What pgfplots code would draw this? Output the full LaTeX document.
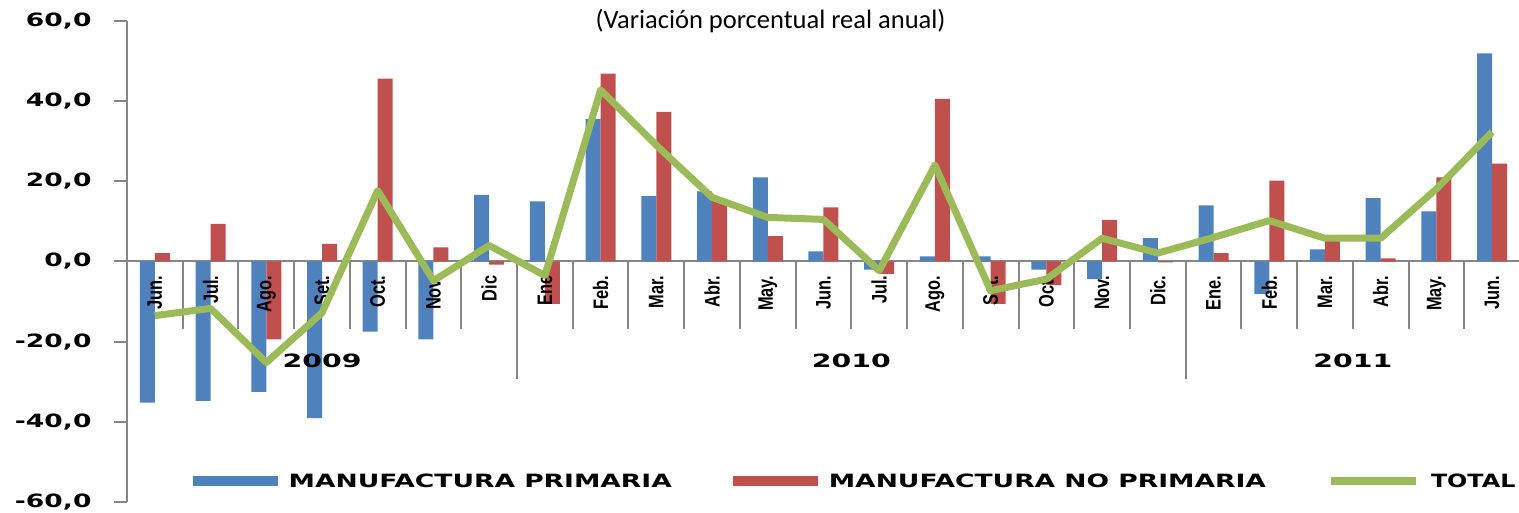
\documentclass[border=0pt]{standalone}
\usepackage{pgfplots}
\pgfplotsset{compat=1.18}
\usepackage{fontspec}
\setmainfont{Carlito}
\newfontfamily\bigfont[FakeStretch=1.45]{DejaVu Sans Bold}
\newfontfamily\totfont[FakeStretch=1.3]{DejaVu Sans Bold}
\newfontfamily\numfont[FakeStretch=1.55]{DejaVu Sans Bold}
\newfontfamily\monthfont[FakeStretch=0.78]{Liberation Sans Bold}
\definecolor{cblue}{HTML}{4F81BD}
\definecolor{cred}{HTML}{C0504D}
\definecolor{cgreen}{HTML}{9BBB59}
\definecolor{cgrid}{HTML}{868686}
\tikzset{mlab/.style={font=\monthfont\fontsize{21}{21}\selectfont, yshift=-14pt, rotate=90, anchor=east, inner sep=0pt}}
\begin{document}
\begin{tikzpicture}[x=1pt,y=1pt]
\path[use as bounding box] (0,0) rectangle (1519,513);
\begin{axis}[
  at={(127pt,11pt)}, anchor=south west,
  scale only axis, width=1393pt, height=481pt,
  xmin=-0.5, xmax=24.5, ymin=-60, ymax=60,
  axis x line=middle, axis y line=left,
  axis line style={-, draw=cgrid, line width=2pt},
  xtick=\empty,
  ytick={-60,-40,...,60},
  y tick style={draw=cgrid, line width=2pt},
  tick align=outside, major tick length=13pt,
  yticklabel style={font=\bigfont\fontsize{18.3}{18.3}\selectfont, xshift=-19pt, /pgf/number format/.cd, fixed, fixed zerofill, precision=1, use comma, assume math mode=true},
  title={(Variación porcentual real anual)},
  title style={at={(0.462,0.9875)}, anchor=center, font=\fontsize{26.5}{26.5}\selectfont},
  legend columns=3,
  legend style={draw=none, fill=none, at={(0.047,0.0437)}, anchor=west, inner sep=0pt,
    font=\bigfont\fontsize{18.3}{18.3}\selectfont,
    /tikz/every odd column/.append style={column sep=9pt},
    /tikz/every even column/.append style={column sep=59pt}},
]
\pgfplotsinvokeforeach{0.5,1.5,2.5,3.5,4.5,5.5,7.5,8.5,9.5,10.5,11.5,12.5,13.5,14.5,15.5,16.5,17.5,19.5,20.5,21.5,22.5,23.5}{
  \draw[cgrid, line width=2pt] (axis cs:#1,0) -- (axis cs:#1,-16.9);
}
\draw[cgrid, line width=2pt] (axis cs:6.5,0) -- (axis cs:6.5,-29.3);
\draw[cgrid, line width=2pt] (axis cs:18.5,0) -- (axis cs:18.5,-29.3);

\addplot[ybar, bar width=15pt, bar shift=-7.5pt, fill=cblue, draw=none,
  legend image code/.code={\fill[cblue] (0pt,-5pt) rectangle (85pt,5pt);}]
  coordinates {(0,-35.2) (1,-34.8) (2,-32.5) (3,-39.1) (4,-17.5) (5,-19.4) (6,16.6)
  (7,15.0) (8,35.6) (9,16.3) (10,17.5) (11,21.0) (12,2.5) (13,-2.0) (14,1.3) (15,1.3)
  (16,-2.0) (17,-4.4) (18,5.8) (19,14.0) (20,-8.1) (21,3.0) (22,15.8) (23,12.5) (24,51.9)};
\addlegendentry{MANUFACTURA PRIMARIA}
\addplot[ybar, bar width=15pt, bar shift=7.5pt, fill=cred, draw=none,
  legend image code/.code={\fill[cred] (0pt,-5pt) rectangle (85pt,5pt);}]
  coordinates {(0,2.1) (1,9.4) (2,-19.4) (3,4.4) (4,45.6) (5,3.5) (6,-0.8)
  (7,-10.6) (8,46.9) (9,37.3) (10,15.6) (11,6.3) (12,13.5) (13,-3.1) (14,40.6) (15,-10.6)
  (16,-5.9) (17,10.4) (18,-0.2) (19,2.1) (20,20.2) (21,6.6) (22,0.8) (23,21.0) (24,24.4)};
\addlegendentry{MANUFACTURA NO PRIMARIA}

\node[mlab] at (axis cs:0,0) {Jun.};
\node[mlab] at (axis cs:1,0) {Jul.};
\node[mlab] at (axis cs:2,0) {Ago.};
\node[mlab] at (axis cs:3,0) {Set.};
\node[mlab] at (axis cs:4,0) {Oct.};
\node[mlab] at (axis cs:5,0) {Nov.};
\node[mlab] at (axis cs:6,0) {Dic};
\node[mlab] at (axis cs:7,0) {Ene};
\node[mlab] at (axis cs:8,0) {Feb.};
\node[mlab] at (axis cs:9,0) {Mar.};
\node[mlab] at (axis cs:10,0) {Abr.};
\node[mlab] at (axis cs:11,0) {May.};
\node[mlab] at (axis cs:12,0) {Jun.};
\node[mlab] at (axis cs:13,0) {Jul.};
\node[mlab] at (axis cs:14,0) {Ago.};
\node[mlab] at (axis cs:15,0) {Set.};
\node[mlab] at (axis cs:16,0) {Oct.};
\node[mlab] at (axis cs:17,0) {Nov.};
\node[mlab] at (axis cs:18,0) {Dic.};
\node[mlab] at (axis cs:19,0) {Ene.};
\node[mlab] at (axis cs:20,0) {Feb.};
\node[mlab] at (axis cs:21,0) {Mar.};
\node[mlab] at (axis cs:22,0) {Abr.};
\node[mlab] at (axis cs:23,0) {May.};
\node[mlab] at (axis cs:24,0) {Jun.};
\node[font=\numfont\fontsize{18.3}{18.3}\selectfont] at (axis cs:3,-24.8) {2009};
\node[font=\numfont\fontsize{18.3}{18.3}\selectfont] at (axis cs:12.5,-24.8) {2010};
\node[font=\numfont\fontsize{18.3}{18.3}\selectfont] at (axis cs:21.5,-24.8) {2011};

\addplot[sharp plot, no marks, cgreen, line width=7pt, line join=round,
  legend image code/.code={\draw[cgreen, line width=8pt] (0pt,0pt) -- (85pt,0pt);}]
  coordinates {(0,-13.5) (1,-11.7) (2,-25.2) (3,-12.8) (4,17.7) (5,-4.8) (6,4.0)
  (7,-3.5) (8,42.8) (9,29.0) (10,16.0) (11,11.0) (12,10.5) (13,-2.3) (14,24.0) (15,-7.3)
  (16,-4.4) (17,5.8) (18,2.1) (19,6.0) (20,10.2) (21,5.8) (22,5.8) (23,18.1) (24,32.3)};
\addlegendentry{\totfont TOTAL}
\end{axis}
\end{tikzpicture}
\end{document}
